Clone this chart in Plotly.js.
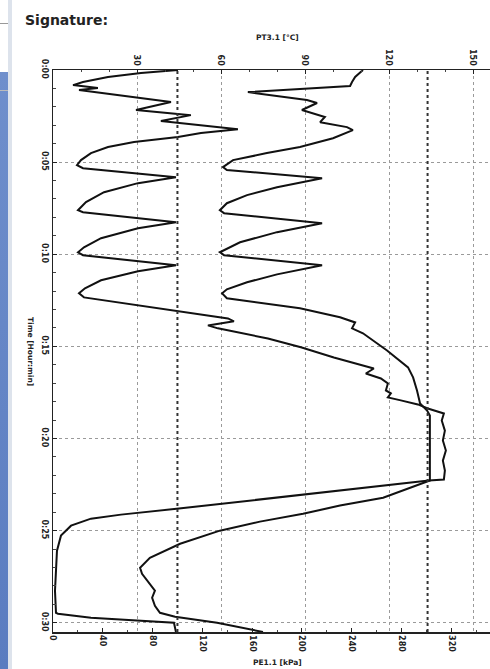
<!DOCTYPE html>
<html>
<head>
<meta charset="utf-8">
<script src="https://cdn.plot.ly/plotly-3.0.1.min.js"></script>
<style>
  html, body { margin: 0; padding: 0; background: #fff; overflow: hidden; width: 490px; height: 669px; }
  #wrap { position: relative; width: 490px; height: 669px; overflow: hidden; }
  #chart { position: absolute; left: 0; top: 0; width: 501px; height: 669px; }
  .deco { position: absolute; }
</style>
</head>
<body>
<div id="wrap">
  <div id="chart"></div>
  <!-- edge of the neighbouring page in the scan -->
  <div class="deco" style="left:0;top:72px;width:8px;height:597px;background:linear-gradient(180deg,#6f8fcc,#5a7cc0);"></div>
  <div class="deco" style="left:8px;top:0;width:4px;height:669px;background:#dde3ec;"></div>
  <div class="deco" style="left:0;top:23px;width:8px;height:1px;background:#999;"></div>
  <div class="deco" style="left:0;top:90px;width:8px;height:1px;background:#bbb;"></div>
</div>
<script>
// ---- data ----
// Time axis in minutes (0:00 .. 0:30)
const timeTickVals = [0, 5, 10, 15, 20, 25, 30];
const timeTickText = ["0:00", "0:05", "0:10", "0:15", "0:20", "0:25", "0:30"];

// PT3.1 temperature (top axis, °C)
const tempTickVals = [30, 60, 90, 120, 150];
const tempTime = [0, 0.38, 0.65, 0.87, 1.20, 1.63, 1.79, 2.17, 2.55, 2.83, 3.10, 3.26, 3.70, 4.18, 4.51, 4.89,
  5.27, 5.43, 5.87, 6.36, 6.79, 7.23, 7.61, 7.77, 8.32, 8.80, 9.35, 9.89, 10.05, 10.60, 11.09, 11.52,
  11.90, 12.12, 12.39, 12.93, 13.42, 13.70, 14.02, 14.29, 15.22, 16.14, 16.68, 17.39, 18.10, 18.48,
  18.75, 22.28, 23.21, 23.64, 24.08, 24.51, 25.00, 25.71, 26.47, 27.01, 27.34, 27.88, 28.26, 28.64,
  29.08, 29.46, 29.67, 30.00, 30.50];
const tempC = [110.7, 107.9, 106.8, 106.1, 69.6, 90.7, 94.3, 88.9, 97.1, 95.4, 105.0, 107.1, 100.0, 88.2, 76.4, 64.3,
  60.7, 62.1, 96.1, 80.0, 69.3, 62.1, 59.6, 61.1, 96.1, 80.0, 66.8, 59.6, 61.1, 96.1, 80.0, 69.3,
  62.1, 60.4, 62.1, 88.2, 102.5, 107.9, 106.8, 110.7, 119.3, 126.8, 128.6, 130.0, 131.1, 133.6,
  134.6, 134.6, 117.9, 102.5, 89.3, 73.9, 59.6, 45.4, 34.6, 31.1, 31.8, 34.6, 36.4, 35.4,
  36.4, 38.2, 43.6, 58.6, 75.0];

// PE1.1 pressure (bottom axis, kPa)
const pressTickVals = [0, 40, 80, 120, 160, 200, 240, 280, 320];
const pressTime = [0, 0.05, 0.16, 0.38, 0.65, 0.82, 0.92, 0.98, 1.09, 1.74, 2.17, 2.45, 2.77, 3.21, 3.42, 3.64,
  3.91, 4.18, 4.51, 4.89, 5.16, 5.33, 5.82, 6.14, 6.63, 7.17, 7.61, 7.72, 8.26, 8.59, 9.13, 9.62,
  9.89, 10.05, 10.60, 10.92, 11.41, 11.85, 12.12, 12.34, 13.48, 13.64, 13.86, 14.02, 14.57, 15.05,
  15.60, 16.03, 16.20, 16.47, 16.74, 17.01, 17.39, 17.55, 17.77, 17.93, 18.15, 18.37, 18.64, 19.02,
  19.57, 20.11, 20.65, 21.20, 21.74, 22.23, 22.28, 23.80, 24.13, 24.35, 24.73, 25.27, 26.09, 27.17,
  28.26, 29.46, 29.51, 29.73, 29.89, 30.00, 30.50];
const pressKPa = [100.4, 90.8, 70.7, 44.2, 24.1, 16.1, 26.5, 36.1, 20.9, 94.8, 66.7, 110.8, 86.7, 148.6, 118.9, 100.4,
  65.1, 44.2, 30.5, 22.5, 19.3, 24.1, 98.8, 68.3, 41.0, 26.5, 20.1, 24.1, 98.8, 68.3, 38.6, 24.9,
  20.1, 24.1, 98.8, 68.3, 38.6, 25.7, 20.9, 24.9, 140.6, 145.4, 124.5, 132.5, 172.7, 199.2,
  225.7, 249.8, 257.8, 251.4, 263.5, 269.1, 267.5, 271.5, 269.1, 279.5, 293.2, 301.2, 314.1, 312.4,
  314.9, 313.3, 315.7, 313.3, 314.9, 314.1, 302.0, 101.2, 54.6, 30.5, 14.5, 6.4, 3.2, 2.4,
  1.6, 2.4, 4.0, 30.5, 70.7, 97.2, 98.8];

// heavy dotted reference lines (kPa)
const refLinesKPa = [100, 301];

// ---- chart ----
const tickFont = { family: "DejaVu Sans", size: 8, color: "#222", weight: "bold" };
const titleFont = { family: "DejaVu Sans", size: 7.5, color: "#222", weight: "bold" };

const traces = [
  { x: pressKPa, y: pressTime, xaxis: "x", yaxis: "y", mode: "lines",
    line: { color: "#111", width: 2 }, hoverinfo: "skip", showlegend: false },
  { x: tempC, y: tempTime, xaxis: "x2", yaxis: "y", mode: "lines",
    line: { color: "#111", width: 2 }, hoverinfo: "skip", showlegend: false }
];

const shapes = refLinesKPa.map(v => ({
  type: "line", xref: "x", yref: "paper", x0: v, x1: v, y0: 0, y1: 1,
  line: { color: "#333", width: 2, dash: "dot" }
}));

const layout = {
  width: 501, height: 669,
  margin: { l: 53, r: 0, t: 70, b: 37, pad: 0 },
  paper_bgcolor: "#fff", plot_bgcolor: "#fff",
  showlegend: false,
  xaxis: {
    range: [0, 360], side: "bottom",
    tickvals: pressTickVals, ticktext: pressTickVals.map(String),
    tickangle: 90, tickfont: tickFont,
    ticks: "inside", ticklen: 4, tickcolor: "#222",
    minor: { dtick: 20, ticks: "inside", ticklen: 2, tickcolor: "#444", showgrid: false },
    showgrid: false, zeroline: false,
    showline: true, linecolor: "#222", linewidth: 1.5
  },
  xaxis2: {
    range: [0, 160], side: "top", overlaying: "x",
    tickvals: tempTickVals, ticktext: tempTickVals.map(String),
    tickangle: 90, tickfont: tickFont,
    ticks: "inside", ticklen: 4, tickcolor: "#222",
    minor: { dtick: 10, ticks: "inside", ticklen: 2, tickcolor: "#444", showgrid: false },
    showgrid: true, gridcolor: "#9a9a9a", gridwidth: 1, griddash: "dot",
    zeroline: false,
    showline: true, linecolor: "#222", linewidth: 1.5
  },
  yaxis: {
    range: [30.5, 0],
    tickvals: timeTickVals, ticktext: timeTickText,
    tickangle: 90, tickfont: tickFont,
    ticks: "inside", ticklen: 4, tickcolor: "#222",
    minor: { dtick: 1, ticks: "inside", ticklen: 3, tickcolor: "#444", showgrid: false },
    showgrid: true, gridcolor: "#9a9a9a", gridwidth: 1, griddash: "dot",
    zeroline: false,
    showline: true, mirror: true, linecolor: "#222", linewidth: 1.5
  },
  shapes: shapes,
  annotations: [
    { text: "Signature:", xref: "paper", yref: "paper", x: -0.067, y: 1.089,
      xanchor: "left", yanchor: "middle", showarrow: false,
      font: { family: "DejaVu Sans", size: 14, color: "#222", weight: "bold" } },
    { text: "PT3.1 [°C]", xref: "paper", yref: "paper", x: 0.5, y: 1.057,
      xanchor: "center", yanchor: "middle", showarrow: false, font: titleFont },
    { text: "PE1.1 [kPa]", xref: "paper", yref: "paper", x: 0.5, y: -0.0534,
      xanchor: "center", yanchor: "middle", showarrow: false, font: titleFont },
    { text: "Time [Hour:min]", xref: "paper", yref: "paper", x: -0.049, y: 0.5,
      xanchor: "center", yanchor: "middle", textangle: 90, showarrow: false, font: titleFont }
  ]
};

Plotly.newPlot("chart", traces, layout, { staticPlot: true, displayModeBar: false });
</script>
</body>
</html>
